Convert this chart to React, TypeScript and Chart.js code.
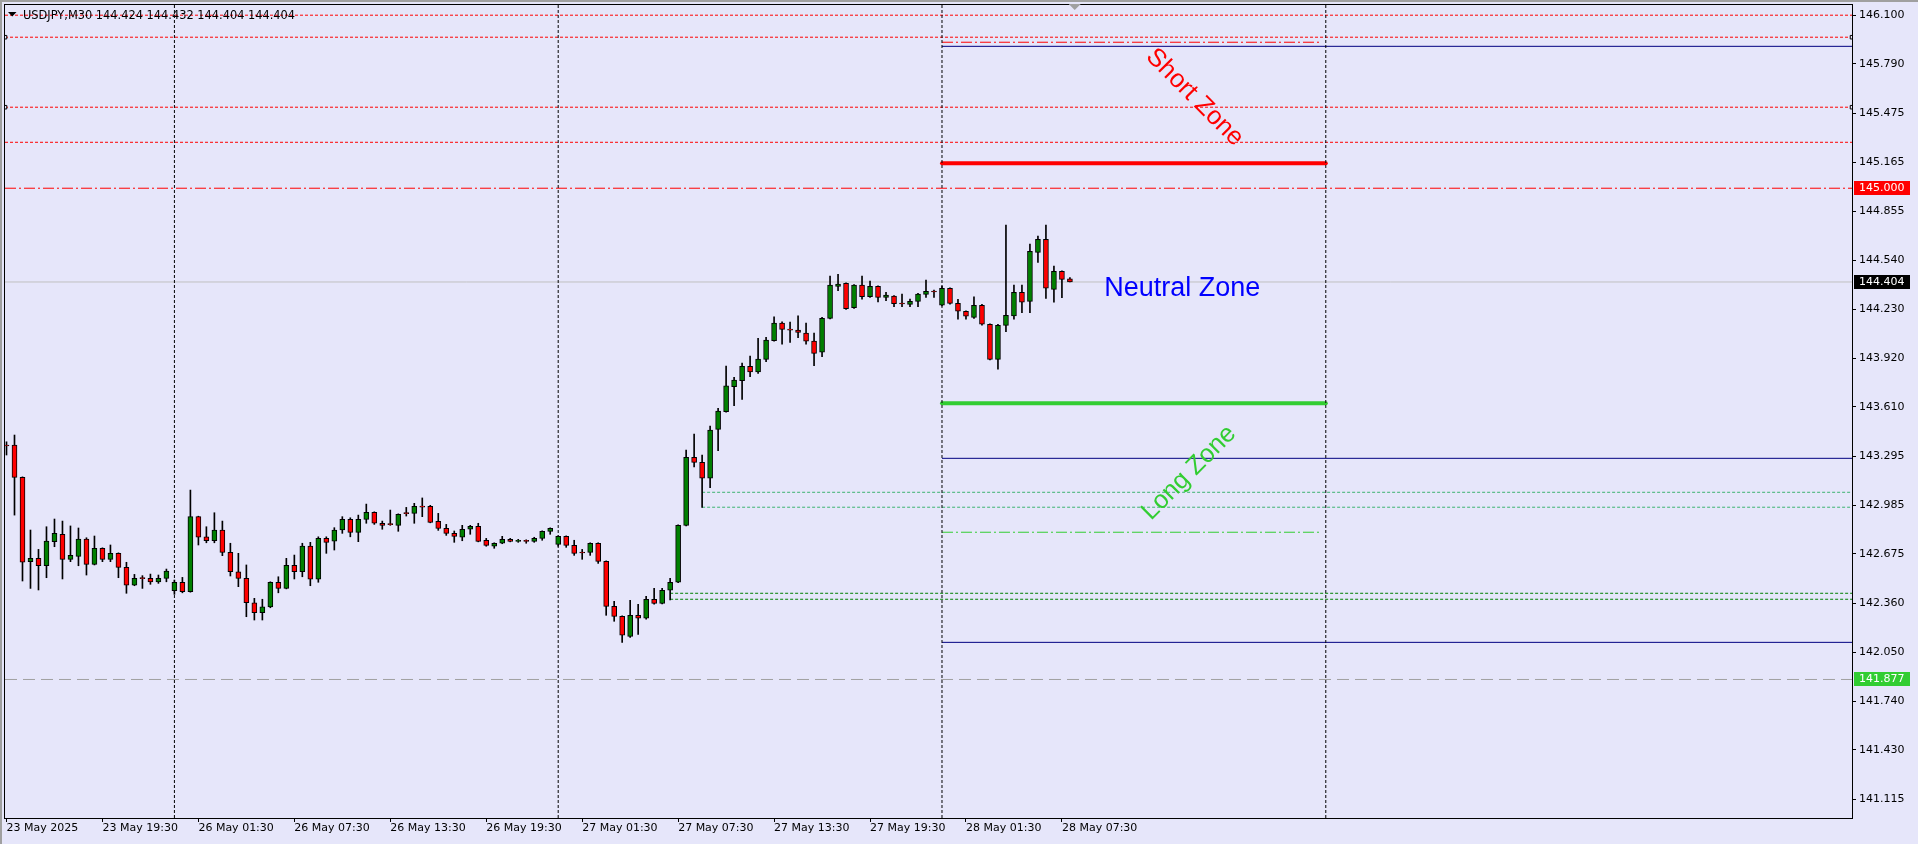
import React, { useEffect, useRef } from 'react';
import { Chart, registerables } from 'chart.js';

Chart.register(...registerables);

// ---------- data (USDJPY, M30) ----------
const symbol = 'USDJPY';
const timeframe = 'M30';

const opens = [
  143.367, 143.367, 143.162, 142.626, 142.647, 142.600, 142.753, 142.800, 142.641, 142.660,
  142.770, 142.609, 142.711, 142.641, 142.679, 142.590, 142.476, 142.520, 142.520, 142.498,
  142.520, 142.441, 142.495, 142.435, 142.912, 142.784, 142.759, 142.827, 142.685, 142.562,
  142.520, 142.365, 142.301, 142.339, 142.495, 142.456, 142.603, 142.562, 142.725, 142.514,
  142.774, 142.757, 142.827, 142.895, 142.812, 142.895, 142.940, 142.870, 142.863, 142.857,
  142.933, 142.933, 142.975, 142.978, 142.882, 142.838, 142.806, 142.781, 142.832, 142.851,
  142.762, 142.724, 142.743, 142.768, 142.755, 142.762, 142.755, 142.774, 142.819, 142.736,
  142.787, 142.730, 142.683, 142.685, 142.743, 142.628, 142.342, 142.278, 142.151, 142.285,
  142.266, 142.387, 142.361, 142.444, 142.495, 142.857, 143.289, 143.257, 143.156, 143.467,
  143.579, 143.738, 143.776, 143.868, 143.833, 143.912, 144.031, 144.143, 144.100, 144.098,
  144.079, 144.029, 143.957, 144.173, 144.376, 144.395, 144.240, 144.385, 144.310, 144.376,
  144.306, 144.315, 144.266, 144.262, 144.281, 144.325, 144.342, 144.257, 144.364, 144.268,
  144.217, 144.179, 144.256, 144.135, 143.912, 144.128, 144.189, 144.338, 144.281, 144.592,
  144.675, 144.357, 144.472, 144.424,
];
const highs = [
  143.388, 143.431, 143.165, 142.827, 142.704, 142.848, 142.897, 142.884, 142.853, 142.840,
  142.778, 142.789, 142.714, 142.732, 142.682, 142.622, 142.545, 142.537, 142.547, 142.541,
  142.579, 142.509, 142.526, 143.081, 142.915, 142.848, 142.937, 142.884, 142.743, 142.679,
  142.605, 142.393, 142.387, 142.498, 142.530, 142.647, 142.668, 142.743, 142.749, 142.784,
  142.784, 142.842, 142.912, 142.905, 142.922, 142.992, 142.943, 142.884, 142.954, 142.930,
  142.971, 142.997, 143.031, 142.984, 142.933, 142.863, 142.821, 142.857, 142.857, 142.870,
  142.774, 142.746, 142.787, 142.774, 142.768, 142.765, 142.781, 142.822, 142.841, 142.790,
  142.790, 142.762, 142.704, 142.746, 142.746, 142.631, 142.374, 142.281, 142.380, 142.355,
  142.406, 142.456, 142.456, 142.520, 142.860, 143.336, 143.437, 143.304, 143.488, 143.601,
  143.870, 143.798, 143.889, 143.933, 144.046, 144.052, 144.183, 144.151, 144.149, 144.188,
  144.143, 144.079, 144.179, 144.442, 144.453, 144.398, 144.388, 144.442, 144.410, 144.379,
  144.338, 144.318, 144.327, 144.296, 144.332, 144.416, 144.353, 144.378, 144.367, 144.294,
  144.220, 144.310, 144.262, 144.138, 144.135, 144.766, 144.385, 144.385, 144.645, 144.696,
  144.766, 144.505, 144.475, 144.432,
];
const lows = [
  143.304, 142.922, 142.503, 142.456, 142.446, 142.524, 142.721, 142.516, 142.626, 142.600,
  142.541, 142.605, 142.626, 142.626, 142.524, 142.425, 142.473, 142.456, 142.482, 142.488,
  142.498, 142.418, 142.428, 142.432, 142.732, 142.746, 142.746, 142.664, 142.535, 142.467,
  142.276, 142.255, 142.255, 142.333, 142.428, 142.453, 142.516, 142.530, 142.473, 142.495,
  142.679, 142.700, 142.806, 142.784, 142.753, 142.870, 142.863, 142.832, 142.857, 142.819,
  142.916, 142.870, 142.912, 142.873, 142.825, 142.793, 142.749, 142.759, 142.800, 142.752,
  142.724, 142.711, 142.740, 142.752, 142.749, 142.743, 142.749, 142.762, 142.800, 142.724,
  142.717, 142.666, 142.641, 142.666, 142.615, 142.285, 142.247, 142.113, 142.145, 142.164,
  142.260, 142.355, 142.358, 142.383, 142.492, 142.854, 143.229, 142.971, 143.096, 143.331,
  143.576, 143.617, 143.658, 143.802, 143.823, 143.897, 144.028, 144.008, 144.020, 144.050,
  144.008, 143.872, 143.929, 144.169, 144.348, 144.230, 144.236, 144.294, 144.306, 144.278,
  144.285, 144.247, 144.247, 144.247, 144.247, 144.306, 144.306, 144.251, 144.263, 144.168,
  144.168, 144.173, 144.130, 143.909, 143.849, 144.088, 144.167, 144.209, 144.209, 144.529,
  144.300, 144.275, 144.304, 144.404,
];
const closes = [
  143.361, 143.162, 142.622, 142.647, 142.600, 142.757, 142.806, 142.641, 142.666, 142.770,
  142.609, 142.711, 142.641, 142.679, 142.590, 142.476, 142.520, 142.518, 142.498, 142.520,
  142.566, 142.495, 142.435, 142.912, 142.781, 142.759, 142.827, 142.685, 142.562, 142.520,
  142.365, 142.301, 142.339, 142.495, 142.456, 142.603, 142.562, 142.725, 142.514, 142.774,
  142.749, 142.827, 142.895, 142.812, 142.895, 142.940, 142.870, 142.857, 142.861, 142.927,
  142.931, 142.978, 142.973, 142.876, 142.838, 142.806, 142.787, 142.832, 142.851, 142.755,
  142.730, 142.743, 142.768, 142.755, 142.762, 142.755, 142.774, 142.819, 142.838, 142.787,
  142.730, 142.679, 142.681, 142.743, 142.628, 142.342, 142.278, 142.158, 142.285, 142.266,
  142.387, 142.361, 142.444, 142.495, 142.857, 143.289, 143.257, 143.156, 143.463, 143.584,
  143.743, 143.781, 143.868, 143.833, 143.914, 144.035, 144.143, 144.103, 144.098, 144.084,
  144.027, 143.950, 144.173, 144.385, 144.391, 144.234, 144.385, 144.310, 144.376, 144.306,
  144.321, 144.266, 144.264, 144.281, 144.327, 144.345, 144.340, 144.364, 144.268, 144.219,
  144.186, 144.256, 144.135, 143.912, 144.128, 144.192, 144.338, 144.275, 144.599, 144.675,
  144.364, 144.472, 144.421, 144.404,
];

// time axis labels (every 12 bars = 6 hours)
const xTickBars = [0, 12, 24, 36, 48, 60, 72, 84, 96, 108, 120, 132];
const xTickLabels = [
  '23 May 2025', '23 May 19:30', '26 May 01:30', '26 May 07:30', '26 May 13:30', '26 May 19:30',
  '27 May 01:30', '27 May 07:30', '27 May 13:30', '27 May 19:30', '28 May 01:30', '28 May 07:30',
];
const yTickValues = [
  146.100, 145.790, 145.475, 145.165, 144.855, 144.540, 144.230, 143.920, 143.610,
  143.295, 142.985, 142.675, 142.360, 142.050, 141.740, 141.430, 141.115,
];

// day separators (bar index)
const separatorBars = [21, 69, 117, 165];

// horizontal levels
const redDottedLevels = [146.100, 145.960, 145.515, 145.292];
const markedLevels = [145.960, 145.515];
const resistanceLevel = 145.000;
const supportLevel = 141.877;
const shortZoneLevel = 145.158;
const longZoneLevel = 143.633;
const navyLevels = [145.902, 143.283, 142.113];
const redDashDotShortLevel = 145.928;
const greenDashDotShortLevel = 142.813;
const greenDashedLevels = [143.067, 142.972];
const greenDashedFromBar = 87;
const darkGreenDashedLevels = [142.425, 142.387];
const darkGreenDashedFromBar = 83;
const zoneStartBar = 117;
const zoneEndBar = 165;
const zoneDashEndBar = 164.2;

// text annotations (bar index, price)
const shortZoneText = { text: 'Short Zone', bar: 148.6, price: 145.577 };
const neutralZoneText = { text: 'Neutral Zone', bar: 137.3, price: 144.317 };
const longZoneText = { text: 'Long Zone', bar: 147.9, price: 143.19 };
const shiftMarkerBar = 133.6;

// ---------- view ----------
const X_MIN = -0.1875;
const X_MAX = 230.8125;
const Y_MIN = 140.9964;
const Y_MAX = 146.1648;

const LAVENDER = '#E6E6FA';
const RED = '#FF0000';
const GREEN = '#008000';
const LIME = '#32CD32';
const NAVY = '#000080';
const FONT = "'DejaVu Sans', sans-serif";
const ZONE_FONT = "'Liberation Sans', Arial, sans-serif";

function hLine(price: number, x0: number, x1: number, color: string, width: number, dash: number[], extra: any = {}) {
  return {
    type: 'line',
    data: [{ x: x0, y: price }, { x: x1, y: price }],
    borderColor: color,
    borderWidth: width,
    borderDash: dash,
    pointRadius: 0,
    fill: false,
    tension: 0,
    order: 2,
    ...extra,
  };
}

function vLine(bar: number) {
  return {
    type: 'line',
    data: [{ x: bar, y: Y_MIN }, { x: bar, y: Y_MAX }],
    borderColor: '#000000',
    borderWidth: 1,
    borderDash: [3, 2],
    pointRadius: 0,
    fill: false,
    order: 2,
  };
}

const decorPlugin = {
  id: 'decor',
  beforeDraw(chart: any) {
    const { ctx, width, height } = chart;
    ctx.save();
    ctx.fillStyle = LAVENDER;
    ctx.fillRect(0, 0, width, height);
    ctx.fillStyle = '#A0A0A0';
    ctx.fillRect(0, 0, 2, height);
    ctx.fillRect(0, 0, width, 2);
    ctx.restore();
  },
  afterDraw(chart: any) {
    const { ctx, chartArea } = chart;
    const xs = chart.scales.x;
    const ys = chart.scales.y;
    ctx.save();

    // frame
    ctx.strokeStyle = '#000000';
    ctx.lineWidth = 1;
    ctx.setLineDash([]);
    ctx.strokeRect(chartArea.left - 0.5, chartArea.top - 0.5, chartArea.right - chartArea.left + 1, chartArea.bottom - chartArea.top + 1);

    // title
    ctx.fillStyle = '#000000';
    ctx.beginPath();
    ctx.moveTo(8, 12);
    ctx.lineTo(16.5, 12);
    ctx.lineTo(12.25, 16.5);
    ctx.closePath();
    ctx.fill();
    const n = closes.length - 1;
    const title = `${symbol},${timeframe} ${opens[n].toFixed(3)} ${highs[n].toFixed(3)} ${lows[n].toFixed(3)} ${closes[n].toFixed(3)}`;
    ctx.font = `11.4px ${FONT}`;
    ctx.textAlign = 'left';
    ctx.textBaseline = 'alphabetic';
    ctx.fillText(title, 23, 18.5);

    // shift marker
    const sx = xs.getPixelForValue(shiftMarkerBar);
    ctx.fillStyle = '#A0A0A0';
    ctx.beginPath();
    ctx.moveTo(sx - 6, chartArea.top - 1);
    ctx.lineTo(sx + 6, chartArea.top - 1);
    ctx.lineTo(sx, chartArea.top + 5);
    ctx.closePath();
    ctx.fill();

    // zone texts
    ctx.fillStyle = RED;
    ctx.font = `25.5px ${ZONE_FONT}`;
    ctx.textAlign = 'center';
    ctx.textBaseline = 'middle';
    ctx.save();
    ctx.translate(xs.getPixelForValue(shortZoneText.bar), ys.getPixelForValue(shortZoneText.price));
    ctx.rotate(Math.PI / 4);
    ctx.fillText(shortZoneText.text, 0, 0);
    ctx.restore();

    ctx.fillStyle = LIME;
    ctx.save();
    ctx.translate(xs.getPixelForValue(longZoneText.bar), ys.getPixelForValue(longZoneText.price));
    ctx.rotate(-Math.PI / 4);
    ctx.fillText(longZoneText.text, 0, 0);
    ctx.restore();

    ctx.fillStyle = '#0000FF';
    ctx.font = `27px ${ZONE_FONT}`;
    ctx.textAlign = 'left';
    ctx.textBaseline = 'alphabetic';
    ctx.fillText(neutralZoneText.text, xs.getPixelForValue(neutralZoneText.bar), ys.getPixelForValue(neutralZoneText.price));

    // price boxes on the right axis
    const boxes = [
      { v: resistanceLevel, bg: RED },
      { v: closes[n], bg: '#000000' },
      { v: supportLevel, bg: LIME },
    ];
    ctx.font = `11px ${FONT}`;
    ctx.textAlign = 'left';
    ctx.textBaseline = 'middle';
    for (const b of boxes) {
      const py = Math.round(ys.getPixelForValue(b.v));
      ctx.fillStyle = b.bg;
      ctx.fillRect(chartArea.right + 2, py - 7, 56, 14);
      ctx.fillStyle = '#FFFFFF';
      ctx.fillText(b.v.toFixed(3), chartArea.right + 7, py + 0.5);
    }
    ctx.restore();
  },
};

export default function App() {
  const canvasRef = useRef<HTMLCanvasElement>(null);

  useEffect(() => {
    document.body.style.margin = '0';
    document.body.style.background = LAVENDER;
    const canvas = canvasRef.current;
    if (!canvas) return;

    const bodyData = opens.map((o, i) => ({ x: i, y: [o, closes[i]] }));
    const wickData = opens.map((_, i) => ({ x: i, y: [lows[i], highs[i]] }));
    const bodyColors = opens.map((o, i) => (closes[i] >= o ? GREEN : RED));

    const datasets: any[] = [
      {
        type: 'bar',
        data: bodyData,
        backgroundColor: bodyColors,
        borderColor: '#000000',
        borderWidth: 1,
        borderSkipped: false,
        barThickness: 5,
        minBarLength: 1,
        grouped: false,
        order: 0,
      },
      {
        type: 'bar',
        data: wickData,
        backgroundColor: '#000000',
        borderWidth: 0,
        barThickness: 1,
        grouped: false,
        order: 1,
      },
      ...separatorBars.map((b) => vLine(b)),
      ...redDottedLevels.map((p) =>
        hLine(p, X_MIN, X_MAX, RED, 1, [3, 2],
          markedLevels.includes(p)
            ? { pointRadius: 2.5, pointStyle: 'rect', pointBackgroundColor: LAVENDER, pointBorderColor: '#000000', pointBorderWidth: 1 }
            : {})),
      hLine(resistanceLevel, X_MIN, X_MAX, RED, 1, [11, 3, 2, 3]),
      hLine(closes[closes.length - 1], X_MIN, X_MAX, '#C0C0C0', 1, []),
      hLine(supportLevel, X_MIN, X_MAX, '#A0A0A0', 1, [12, 6]),
      hLine(redDashDotShortLevel, zoneStartBar, zoneDashEndBar, RED, 1, [11, 3, 2, 3]),
      hLine(greenDashDotShortLevel, zoneStartBar, zoneDashEndBar, LIME, 1, [11, 3, 2, 3]),
      ...navyLevels.map((p) => hLine(p, zoneStartBar, X_MAX, NAVY, 1, [])),
      hLine(shortZoneLevel, zoneStartBar, zoneEndBar, RED, 4, [], { borderCapStyle: 'round' }),
      hLine(longZoneLevel, zoneStartBar, zoneEndBar, LIME, 4, [], { borderCapStyle: 'round' }),
      ...greenDashedLevels.map((p) => hLine(p, greenDashedFromBar, X_MAX, '#3CB371', 1, [3, 2])),
      ...darkGreenDashedLevels.map((p) => hLine(p, darkGreenDashedFromBar, X_MAX, GREEN, 1, [3, 2])),
    ];

    const chart = new Chart(canvas, {
      type: 'bar',
      data: { datasets },
      plugins: [decorPlugin],
      options: {
        animation: false,
        responsive: false,
        devicePixelRatio: 1,
        events: [],
        layout: { padding: { left: 4, top: 5, right: 0, bottom: 0 } },
        plugins: { legend: { display: false }, tooltip: { enabled: false } },
        scales: {
          x: {
            type: 'linear',
            min: X_MIN,
            max: X_MAX,
            offset: false,
            bounds: 'data',
            grid: { display: true, drawOnChartArea: false, drawTicks: true, tickLength: 4, color: '#000000', offset: false },
            border: { display: false },
            ticks: {
              autoSkip: false,
              maxRotation: 0,
              minRotation: 0,
              align: 'start',
              padding: 0,
              color: '#000000',
              font: { family: FONT, size: 11 },
              callback: (v: any) => {
                const k = xTickBars.indexOf(Number(v));
                return k >= 0 ? xTickLabels[k] : '';
              },
            },
            afterBuildTicks: (scale: any) => {
              scale.ticks = xTickBars.map((v) => ({ value: v }));
            },
            afterFit: (scale: any) => {
              scale.height = 26;
              scale.paddingLeft = 0;
              scale.paddingRight = 0;
            },
          },
          y: {
            type: 'linear',
            position: 'right',
            min: Y_MIN,
            max: Y_MAX,
            bounds: 'data',
            grid: { display: true, drawOnChartArea: false, drawTicks: true, tickLength: 4, color: '#000000' },
            border: { display: false },
            ticks: {
              autoSkip: false,
              padding: 3,
              color: '#000000',
              font: { family: FONT, size: 11 },
              callback: (v: any) => Number(v).toFixed(3),
            },
            afterBuildTicks: (scale: any) => {
              scale.ticks = yTickValues.map((v) => ({ value: v }));
            },
            afterFit: (scale: any) => {
              scale.width = 66;
              scale.paddingTop = 0;
              scale.paddingBottom = 0;
            },
          },
        },
      } as any,
    } as any);

    return () => chart.destroy();
  }, []);

  return (
    <div style={{ width: 1918, height: 844, background: LAVENDER }}>
      <canvas ref={canvasRef} width={1918} height={844} style={{ display: 'block' }} />
    </div>
  );
}
